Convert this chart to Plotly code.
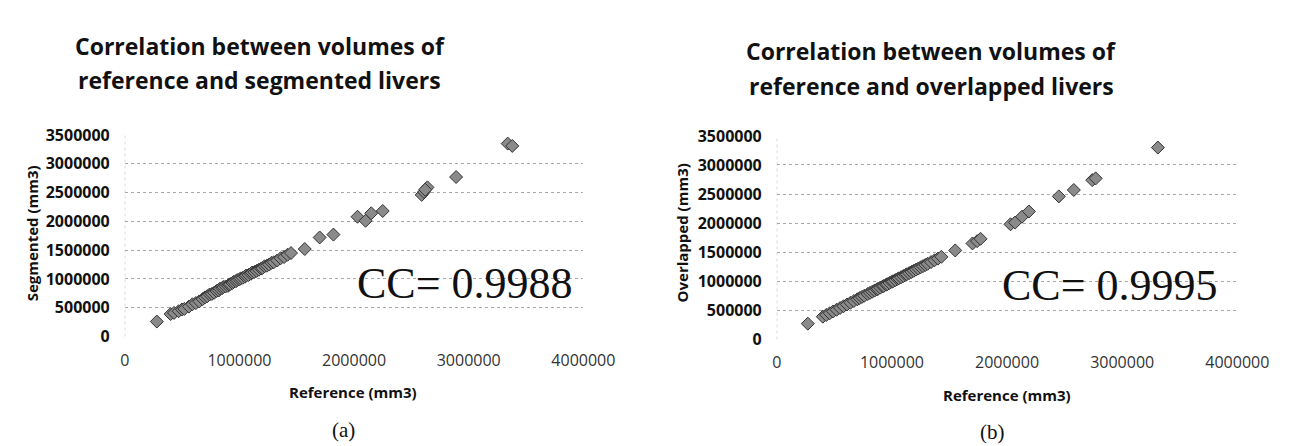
import plotly.graph_objects as go

# ---------- data (mm3) ----------
seg_ref = [280000, 400000, 430000, 470000, 500000, 520000, 560000, 590000, 620000, 650000,
           680000, 700000, 720000, 740000, 760000, 780000, 800000, 820000, 830000, 850000,
           860000, 880000, 900000, 910000, 920000, 940000, 950000, 970000, 980000, 1000000,
           1010000, 1030000, 1050000, 1060000, 1080000, 1100000, 1110000, 1130000, 1150000,
           1170000, 1190000, 1200000, 1220000, 1240000, 1260000, 1280000, 1300000, 1330000,
           1360000, 1390000, 1420000, 1450000,
           1570000, 1700000, 1820000, 2030000, 2100000, 2150000, 2250000,
           2590000, 2610000, 2640000, 2620000, 2890000, 3340000, 3380000]
seg_val = [260000, 390000, 410000, 440000, 470000, 480000, 520000, 560000, 580000, 610000,
           650000, 680000, 700000, 730000, 740000, 760000, 790000, 800000, 830000, 840000,
           860000, 870000, 880000, 900000, 910000, 930000, 950000, 960000, 980000, 990000,
           1010000, 1020000, 1040000, 1060000, 1070000, 1090000, 1110000, 1120000, 1140000,
           1160000, 1180000, 1190000, 1220000, 1230000, 1250000, 1280000, 1290000, 1320000,
           1360000, 1380000, 1420000, 1450000,
           1520000, 1720000, 1770000, 2080000, 2010000, 2140000, 2180000,
           2460000, 2510000, 2590000, 2550000, 2770000, 3350000, 3310000]

ovl_ref = [270000, 400000, 430000, 460000, 490000, 520000, 550000, 580000, 610000, 640000,
           670000, 700000, 720000, 740000, 760000, 790000, 810000, 830000, 850000, 870000,
           880000, 900000, 920000, 930000, 950000, 960000, 980000, 1000000, 1010000, 1030000,
           1050000, 1060000, 1080000, 1100000, 1120000, 1130000, 1150000, 1170000, 1190000,
           1210000, 1230000, 1250000, 1270000, 1290000, 1310000, 1340000, 1370000, 1400000,
           1430000,
           1550000, 1700000, 1740000, 1770000, 2030000, 2070000, 2130000, 2190000,
           2450000, 2580000, 2740000, 2770000, 3310000]
ovl_val = [270000, 390000, 420000, 450000, 480000, 510000, 540000, 570000, 600000, 630000,
           660000, 690000, 710000, 730000, 750000, 780000, 800000, 820000, 840000, 860000,
           870000, 890000, 910000, 920000, 940000, 950000, 970000, 990000, 1000000, 1020000,
           1040000, 1050000, 1070000, 1090000, 1110000, 1120000, 1140000, 1160000, 1180000,
           1200000, 1220000, 1240000, 1260000, 1280000, 1300000, 1330000, 1360000, 1390000,
           1420000,
           1530000, 1650000, 1690000, 1730000, 1980000, 2010000, 2110000, 2200000,
           2460000, 2570000, 2740000, 2770000, 3300000]

y_ticks = [0, 500000, 1000000, 1500000, 2000000, 2500000, 3000000, 3500000]
x_ticks = [0, 1000000, 2000000, 3000000, 4000000]
titles_a = ["Correlation between volumes of", "reference and segmented livers"]
titles_b = ["Correlation between volumes of", "reference and overlapped livers"]
cc_a = "CC= 0.9988"
cc_b = "CC= 0.9995"

W, H = 1307, 446
SANS = "Open Sans"
SERIF = "Liberation Serif"

marker = dict(symbol="diamond", size=10, color="#8a8a8a",
              line=dict(color="#333333", width=1))

fig = go.Figure()
fig.add_trace(go.Scatter(x=seg_ref, y=seg_val, mode="markers", marker=marker,
                         xaxis="x", yaxis="y", showlegend=False))
fig.add_trace(go.Scatter(x=ovl_ref, y=ovl_val, mode="markers", marker=marker,
                         xaxis="x2", yaxis="y2", showlegend=False))

def xax(domain, anchor):
    return dict(domain=domain, anchor=anchor, range=[0, 4000000], tickvals=x_ticks,
                ticktext=[str(v) for v in x_ticks], showgrid=False, zeroline=False,
                showline=False, ticks="", ticklabelstandoff=12,
                tickfont=dict(family=SANS, size=16, color="#333"))

def yax(domain, anchor):
    return dict(domain=domain, anchor=anchor, range=[0, 3500000], tickvals=y_ticks,
                ticktext=[str(v) for v in y_ticks], showgrid=True, gridcolor="#a8a8a8",
                griddash="dot", gridwidth=1, zeroline=False, showline=False, ticks="",
                ticklabelstandoff=14,
                tickfont=dict(family=SANS, size=16, color="#111", weight="bold"))

fig.update_layout(
    width=W, height=H, margin=dict(l=0, r=0, t=0, b=0),
    paper_bgcolor="white", plot_bgcolor="white",
    xaxis=xax([115 / W, 587 / W], "y"),
    yaxis=yax([1 - 334 / H, 1 - 122 / H], "x"),
    xaxis2=xax([786 / W, 1260 / W], "y2"),
    yaxis2=yax([1 - 337 / H, 1 - 123 / H], "x2"),
)

# dotted left border of each plot area
for xr, yr in (("x", "y"), ("x2", "y2")):
    fig.add_shape(type="line", xref=xr, yref=yr + " domain", x0=0, x1=0, y0=0, y1=1,
                  line=dict(color="#a8a8a8", width=1, dash="dot"))

def ann(x, y, text, size, family=SANS, weight="normal", angle=0, color="#111"):
    fig.add_annotation(x=x / W, y=1 - y / H, xref="paper", yref="paper", text=text,
                       showarrow=False, xanchor="center", yanchor="middle",
                       textangle=angle,
                       font=dict(family=family, size=size, color=color, weight=weight))

# titles
ann(254, 28, titles_a[0], 23, weight="bold")
ann(254, 64, titles_a[1], 23, weight="bold")
ann(945, 34, titles_b[0], 23, weight="bold")
ann(945, 70, titles_b[1], 23, weight="bold")

# axis titles
ann(19, 225, "Segmented (mm3)", 15, weight="bold", angle=-90)
ann(688, 225, "Overlapped (mm3)", 15, weight="bold", angle=-90)
ann(350, 392, "Reference (mm3)", 15, weight="bold")
ann(1023, 395, "Reference (mm3)", 15, weight="bold")

# CC labels
ann(465, 278, cc_a, 44, family=SERIF)
ann(1129, 280, cc_b, 44, family=SERIF)

# sub-figure labels
ann(340, 432, "(a)", 21, family=SERIF)
ann(1008, 434, "(b)", 21, family=SERIF)

fig.write_html("out.html")
